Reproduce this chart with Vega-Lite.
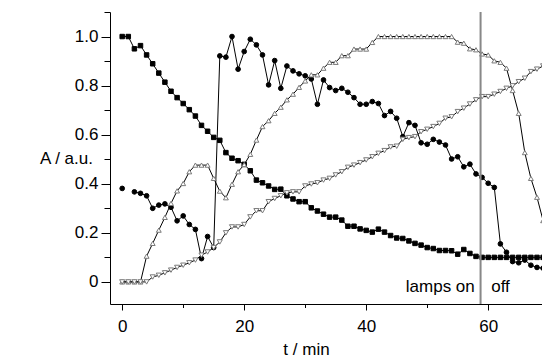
{
  "$schema": "https://vega.github.io/schema/vega-lite/v6.json",
  "autosize": "none",
  "width": 432,
  "height": 292,
  "padding": {"left": 110, "top": 12, "right": 0, "bottom": 55},
  "background": "white",
  "config": {
    "view": {"stroke": null},
    "font": "Liberation Sans",
    "axis": {
      "domainColor": "black", "domainWidth": 1, "tickColor": "black", "tickWidth": 1,
      "labelFont": "Liberation Sans", "labelFontSize": 17, "labelColor": "black",
      "titleFont": "Liberation Sans", "titleFontSize": 17, "titleFontWeight": "normal", "titleColor": "black",
      "grid": false
    }
  },
  "data": {"values": [
    {"t":0,"s":"S","A":1.0},{"t":1,"s":"S","A":1.0},{"t":2,"s":"S","A":0.95},{"t":3,"s":"S","A":0.963},{"t":4,"s":"S","A":0.925},{"t":5,"s":"S","A":0.889},{"t":6,"s":"S","A":0.851},{"t":7,"s":"S","A":0.814},{"t":8,"s":"S","A":0.777},{"t":9,"s":"S","A":0.751},{"t":10,"s":"S","A":0.727},{"t":11,"s":"S","A":0.702},{"t":12,"s":"S","A":0.676},{"t":13,"s":"S","A":0.638},{"t":14,"s":"S","A":0.614},{"t":15,"s":"S","A":0.589},{"t":16,"s":"S","A":0.577},{"t":17,"s":"S","A":0.527},{"t":18,"s":"S","A":0.504},{"t":19,"s":"S","A":0.494},{"t":20,"s":"S","A":0.479},{"t":21,"s":"S","A":0.453},{"t":22,"s":"S","A":0.415},{"t":23,"s":"S","A":0.404},{"t":24,"s":"S","A":0.391},{"t":25,"s":"S","A":0.377},{"t":26,"s":"S","A":0.378},{"t":27,"s":"S","A":0.351},{"t":28,"s":"S","A":0.338},{"t":29,"s":"S","A":0.327},{"t":30,"s":"S","A":0.327},{"t":31,"s":"S","A":0.302},{"t":32,"s":"S","A":0.289},{"t":33,"s":"S","A":0.276},{"t":34,"s":"S","A":0.264},{"t":35,"s":"S","A":0.264},{"t":36,"s":"S","A":0.252},{"t":37,"s":"S","A":0.227},{"t":38,"s":"S","A":0.227},{"t":39,"s":"S","A":0.216},{"t":40,"s":"S","A":0.21},{"t":41,"s":"S","A":0.203},{"t":42,"s":"S","A":0.215},{"t":43,"s":"S","A":0.203},{"t":44,"s":"S","A":0.189},{"t":45,"s":"S","A":0.179},{"t":46,"s":"S","A":0.177},{"t":47,"s":"S","A":0.167},{"t":48,"s":"S","A":0.157},{"t":49,"s":"S","A":0.15},{"t":50,"s":"S","A":0.14},{"t":51,"s":"S","A":0.136},{"t":52,"s":"S","A":0.128},{"t":53,"s":"S","A":0.128},{"t":54,"s":"S","A":0.127},{"t":55,"s":"S","A":0.113},{"t":56,"s":"S","A":0.132},{"t":57,"s":"S","A":0.116},{"t":58,"s":"S","A":0.104},{"t":59,"s":"S","A":0.1},{"t":60,"s":"S","A":0.1},{"t":61,"s":"S","A":0.1},{"t":62,"s":"S","A":0.1},{"t":63,"s":"S","A":0.1},{"t":64,"s":"S","A":0.1},{"t":65,"s":"S","A":0.1},{"t":66,"s":"S","A":0.1},{"t":67,"s":"S","A":0.1},{"t":68,"s":"S","A":0.1},{"t":69,"s":"S","A":0.1},
    {"t":0,"s":"C","A":0.381},{"t":1,"s":"C","A":null},{"t":2,"s":"C","A":0.367},{"t":3,"s":"C","A":0.361},{"t":4,"s":"C","A":0.351},{"t":5,"s":"C","A":0.3},{"t":6,"s":"C","A":0.313},{"t":7,"s":"C","A":0.318},{"t":8,"s":"C","A":0.304},{"t":9,"s":"C","A":0.249},{"t":10,"s":"C","A":0.269},{"t":11,"s":"C","A":0.234},{"t":12,"s":"C","A":0.214},{"t":13,"s":"C","A":0.095},{"t":14,"s":"C","A":0.185},{"t":15,"s":"C","A":0.14},{"t":16,"s":"C","A":0.921},{"t":17,"s":"C","A":0.916},{"t":18,"s":"C","A":1.0},{"t":19,"s":"C","A":0.867},{"t":20,"s":"C","A":0.939},{"t":21,"s":"C","A":0.989},{"t":22,"s":"C","A":0.966},{"t":23,"s":"C","A":0.925},{"t":24,"s":"C","A":0.803},{"t":25,"s":"C","A":0.902},{"t":26,"s":"C","A":0.789},{"t":27,"s":"C","A":0.88},{"t":28,"s":"C","A":0.86},{"t":29,"s":"C","A":0.848},{"t":30,"s":"C","A":0.84},{"t":31,"s":"C","A":0.827},{"t":32,"s":"C","A":0.724},{"t":33,"s":"C","A":0.823},{"t":34,"s":"C","A":0.792},{"t":35,"s":"C","A":0.78},{"t":36,"s":"C","A":0.789},{"t":37,"s":"C","A":0.773},{"t":38,"s":"C","A":0.751},{"t":39,"s":"C","A":0.724},{"t":40,"s":"C","A":0.724},{"t":41,"s":"C","A":0.735},{"t":42,"s":"C","A":0.727},{"t":43,"s":"C","A":0.678},{"t":44,"s":"C","A":0.695},{"t":45,"s":"C","A":0.667},{"t":46,"s":"C","A":0.592},{"t":47,"s":"C","A":0.649},{"t":48,"s":"C","A":0.638},{"t":49,"s":"C","A":0.567},{"t":50,"s":"C","A":0.561},{"t":51,"s":"C","A":0.581},{"t":52,"s":"C","A":0.57},{"t":53,"s":"C","A":0.558},{"t":54,"s":"C","A":0.501},{"t":55,"s":"C","A":0.51},{"t":56,"s":"C","A":0.469},{"t":57,"s":"C","A":0.48},{"t":58,"s":"C","A":0.44},{"t":59,"s":"C","A":0.426},{"t":60,"s":"C","A":0.402},{"t":61,"s":"C","A":0.385},{"t":62,"s":"C","A":0.155},{"t":63,"s":"C","A":0.121},{"t":64,"s":"C","A":0.083},{"t":65,"s":"C","A":0.078},{"t":66,"s":"C","A":0.089},{"t":67,"s":"C","A":0.068},{"t":68,"s":"C","A":0.059},{"t":69,"s":"C","A":0.056},
    {"t":0,"s":"U","A":0},{"t":1,"s":"U","A":0},{"t":2,"s":"U","A":0},{"t":3,"s":"U","A":0},{"t":4,"s":"U","A":0.105},{"t":5,"s":"U","A":0.157},{"t":6,"s":"U","A":0.211},{"t":7,"s":"U","A":0.263},{"t":8,"s":"U","A":0.32},{"t":9,"s":"U","A":0.371},{"t":10,"s":"U","A":0.401},{"t":11,"s":"U","A":0.449},{"t":12,"s":"U","A":0.476},{"t":13,"s":"U","A":0.476},{"t":14,"s":"U","A":0.476},{"t":15,"s":"U","A":0.422},{"t":16,"s":"U","A":0.37},{"t":17,"s":"U","A":0.343},{"t":18,"s":"U","A":0.398},{"t":19,"s":"U","A":0.449},{"t":20,"s":"U","A":0.478},{"t":21,"s":"U","A":0.52},{"t":22,"s":"U","A":0.578},{"t":23,"s":"U","A":0.633},{"t":24,"s":"U","A":0.657},{"t":25,"s":"U","A":0.687},{"t":26,"s":"U","A":0.712},{"t":27,"s":"U","A":0.742},{"t":28,"s":"U","A":0.765},{"t":29,"s":"U","A":0.793},{"t":30,"s":"U","A":0.819},{"t":31,"s":"U","A":0.844},{"t":32,"s":"U","A":0.844},{"t":33,"s":"U","A":0.871},{"t":34,"s":"U","A":0.895},{"t":35,"s":"U","A":0.895},{"t":36,"s":"U","A":0.922},{"t":37,"s":"U","A":0.922},{"t":38,"s":"U","A":0.949},{"t":39,"s":"U","A":0.949},{"t":40,"s":"U","A":0.949},{"t":41,"s":"U","A":0.976},{"t":42,"s":"U","A":1.0},{"t":43,"s":"U","A":1.0},{"t":44,"s":"U","A":1.0},{"t":45,"s":"U","A":1.0},{"t":46,"s":"U","A":1.0},{"t":47,"s":"U","A":1.0},{"t":48,"s":"U","A":1.0},{"t":49,"s":"U","A":1.0},{"t":50,"s":"U","A":1.0},{"t":51,"s":"U","A":1.0},{"t":52,"s":"U","A":1.0},{"t":53,"s":"U","A":1.0},{"t":54,"s":"U","A":1.0},{"t":55,"s":"U","A":0.977},{"t":56,"s":"U","A":0.973},{"t":57,"s":"U","A":0.95},{"t":58,"s":"U","A":0.946},{"t":59,"s":"U","A":0.929},{"t":60,"s":"U","A":0.925},{"t":61,"s":"U","A":0.901},{"t":62,"s":"U","A":0.895},{"t":63,"s":"U","A":0.871},{"t":64,"s":"U","A":0.78},{"t":65,"s":"U","A":0.687},{"t":66,"s":"U","A":0.527},{"t":67,"s":"U","A":0.422},{"t":68,"s":"U","A":0.345},{"t":69,"s":"U","A":0.25},
    {"t":0,"s":"D","A":0},{"t":1,"s":"D","A":0},{"t":2,"s":"D","A":0},{"t":3,"s":"D","A":0},{"t":4,"s":"D","A":0},{"t":5,"s":"D","A":0.02},{"t":6,"s":"D","A":0.027},{"t":7,"s":"D","A":0.037},{"t":8,"s":"D","A":0.048},{"t":9,"s":"D","A":0.059},{"t":10,"s":"D","A":0.068},{"t":11,"s":"D","A":0.078},{"t":12,"s":"D","A":0.089},{"t":13,"s":"D","A":0.109},{"t":14,"s":"D","A":0.122},{"t":15,"s":"D","A":0.14},{"t":16,"s":"D","A":0.163},{"t":17,"s":"D","A":0.2},{"t":18,"s":"D","A":0.224},{"t":19,"s":"D","A":0.224},{"t":20,"s":"D","A":0.234},{"t":21,"s":"D","A":0.265},{"t":22,"s":"D","A":0.29},{"t":23,"s":"D","A":0.29},{"t":24,"s":"D","A":0.327},{"t":25,"s":"D","A":0.34},{"t":26,"s":"D","A":0.351},{"t":27,"s":"D","A":0.363},{"t":28,"s":"D","A":0.367},{"t":29,"s":"D","A":0.367},{"t":30,"s":"D","A":0.391},{"t":31,"s":"D","A":0.399},{"t":32,"s":"D","A":0.404},{"t":33,"s":"D","A":0.415},{"t":34,"s":"D","A":0.422},{"t":35,"s":"D","A":0.436},{"t":36,"s":"D","A":0.449},{"t":37,"s":"D","A":0.467},{"t":38,"s":"D","A":0.476},{"t":39,"s":"D","A":0.486},{"t":40,"s":"D","A":0.497},{"t":41,"s":"D","A":0.51},{"t":42,"s":"D","A":0.524},{"t":43,"s":"D","A":0.535},{"t":44,"s":"D","A":0.55},{"t":45,"s":"D","A":0.553},{"t":46,"s":"D","A":0.581},{"t":47,"s":"D","A":0.588},{"t":48,"s":"D","A":0.592},{"t":49,"s":"D","A":0.612},{"t":50,"s":"D","A":0.622},{"t":51,"s":"D","A":0.633},{"t":52,"s":"D","A":0.646},{"t":53,"s":"D","A":0.667},{"t":54,"s":"D","A":0.673},{"t":55,"s":"D","A":0.694},{"t":56,"s":"D","A":0.708},{"t":57,"s":"D","A":0.725},{"t":58,"s":"D","A":0.742},{"t":59,"s":"D","A":0.755},{"t":60,"s":"D","A":0.755},{"t":61,"s":"D","A":0.765},{"t":62,"s":"D","A":0.776},{"t":63,"s":"D","A":0.789},{"t":64,"s":"D","A":0.799},{"t":65,"s":"D","A":0.816},{"t":66,"s":"D","A":0.83},{"t":67,"s":"D","A":0.857},{"t":68,"s":"D","A":0.867},{"t":69,"s":"D","A":0.88}
  ]},
  "encoding": {
    "x": {"field": "t", "type": "quantitative",
      "scale": {"domain": [-2, 68.82], "nice": false, "zero": false},
      "axis": {"values": [0,10,20,30,40,50,60], "title": "t / min",
        "labelExpr": "datum.value % 20 === 0 ? datum.label : ''",
        "tickSize": {"condition": {"test": "datum.value % 20 !== 0", "value": 3.5}, "value": 6},
        "labelPadding": 8, "titleX": 196, "titleY": 50, "titleAlign": "center", "titleBaseline": "alphabetic"}},
    "y": {"field": "A", "type": "quantitative",
      "scale": {"domain": [-0.09, 1.1], "nice": false, "zero": false},
      "axis": {"values": [0,0.1,0.2,0.3,0.4,0.5,0.6,0.7,0.8,0.9,1.0,1.1], "title": "A / a.u.",
        "labelExpr": "round(datum.value*10) % 2 === 0 ? (datum.value === 0 ? '0' : format(datum.value, '.1f')) : ''",
        "tickSize": {"condition": {"test": "round(datum.value*10) % 2 !== 0", "value": 6}, "value": 9},
        "labelPadding": 3, "titleAngle": 0, "titleX": -44, "titleY": 146, "titleAlign": "center", "titleBaseline": "middle"}}
  },
  "layer": [
    {"mark": {"type": "line", "color": "black", "strokeWidth": 1, "clip": true, "invalid": "break-paths-filter-domains"},
     "encoding": {"detail": {"field": "s"}}},
    {"mark": {"type": "point", "filled": true, "strokeWidth": 1, "opacity": 1, "clip": true},
     "encoding": {
       "shape": {"field": "s", "type": "nominal", "legend": null,
         "scale": {"domain": ["S","C","U","D"], "range": ["square","circle","triangle-up","triangle-down"]}},
       "fill": {"field": "s", "type": "nominal", "legend": null,
         "scale": {"domain": ["S","C","U","D"], "range": ["black","black","white","white"]}},
       "stroke": {"field": "s", "type": "nominal", "legend": null,
         "scale": {"domain": ["S","C","U","D"], "range": ["black","black","#7a7a7a","#7a7a7a"]}},
       "size": {"field": "s", "type": "nominal", "legend": null,
         "scale": {"domain": ["S","C","U","D"], "range": [20, 26, 34, 34]}}
     }},
    {"data": {"values": [{"t": 58.75}]},
     "mark": {"type": "rule", "color": "#888888", "strokeWidth": 2},
     "encoding": {"x": {"field": "t", "type": "quantitative"}, "y": null}},
    {"data": {"values": [{"t": 57.8, "A": -0.042, "label": "lamps on"}]},
     "mark": {"type": "text", "align": "right", "baseline": "alphabetic", "font": "Liberation Sans", "fontSize": 17, "color": "black"},
     "encoding": {"text": {"field": "label"}}},
    {"data": {"values": [{"t": 60.5, "A": -0.042, "label": "off"}]},
     "mark": {"type": "text", "align": "left", "baseline": "alphabetic", "font": "Liberation Sans", "fontSize": 17, "color": "black"},
     "encoding": {"text": {"field": "label"}}}
  ]
}
